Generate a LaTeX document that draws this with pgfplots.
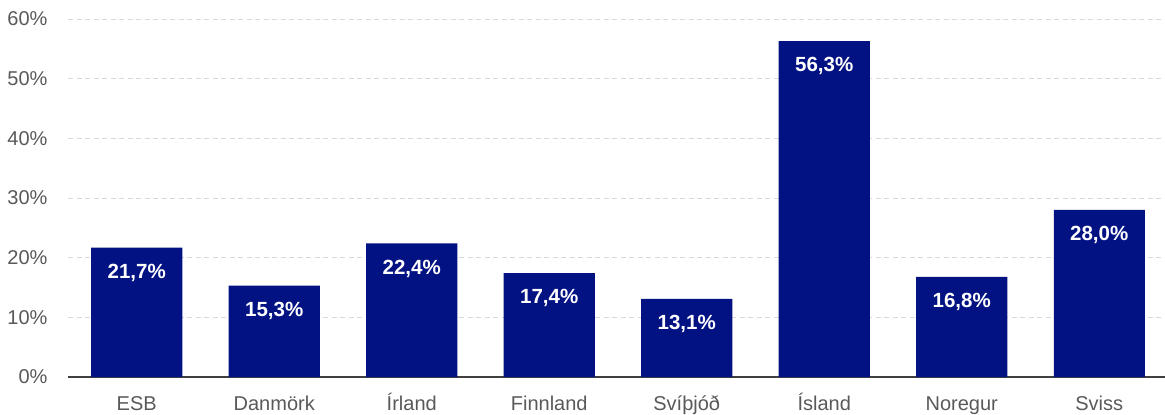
\documentclass[border=0pt]{standalone}
\usepackage{pgfplots}
\pgfplotsset{compat=1.18}
\usepackage{fontspec}
\setmainfont{Liberation Sans}
\definecolor{barblue}{RGB}{2,18,130}
\definecolor{tickgray}{RGB}{89,89,89}
\definecolor{gridgray}{RGB}{217,217,217}
\definecolor{axisgray}{RGB}{64,64,64}
\begin{document}
\begin{tikzpicture}
\useasboundingbox (-68bp,-38bp) rectangle (1097bp,377bp);
\begin{axis}[
  scale only axis,
  width=1097bp, height=358bp,
  xmin=-0.5, xmax=7.478,
  ymin=0, ymax=60,
  axis x line*=bottom,
  axis y line*=left,
  y axis line style={draw=none},
  x axis line style={draw=axisgray, line width=1.3bp},
  major tick length=0pt,
  xtick={0,1,2,3,4,5,6,7},
  xticklabels={ESB,Danmörk,Írland,Finnland,Svíþjóð,Ísland,Noregur,Sviss},
  ytick={0,10,20,30,40,50,60},
  /pgf/number format/assume math mode=true,
  yticklabel={\pgfmathprintnumber{\tick}\%},
  tick label style={font=\fontsize{20bp}{22bp}\selectfont, text=tickgray},
  yticklabel style={xshift=-17bp},
  xticklabel style={text height=15bp, text depth=4bp, yshift=-15bp},
  ymajorgrids,
  grid style={dash pattern=on 5bp off 3.5bp, draw=gridgray, line width=0.9bp},
  nodes near coords={\pgfmathprintnumber[fixed,fixed zerofill,precision=1,use comma]{\pgfplotspointmeta}\%},
  nodes near coords style={anchor=north, yshift=-13bp, text=white, font=\fontsize{20.5bp}{22bp}\selectfont\bfseries},
]
\addplot[ybar, bar width=0.662, fill=barblue, draw=none] coordinates {
  (0,21.7) (1,15.3) (2,22.4) (3,17.4) (4,13.1) (5,56.3) (6,16.8) (7,28.0)
};
\end{axis}
\end{tikzpicture}
\end{document}
